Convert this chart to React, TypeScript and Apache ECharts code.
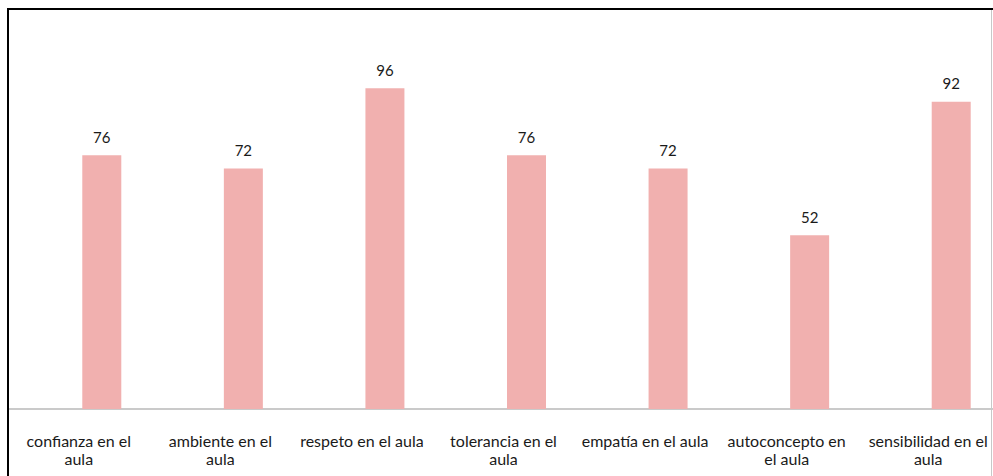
import React, { useEffect, useRef } from "react";
import * as echarts from "echarts";

const categories = [
  "confianza en el\naula",
  "ambiente en el\naula",
  "respeto en el aula",
  "tolerancia en el\naula",
  "empatía en el aula",
  "autoconcepto en\nel aula",
  "sensibilidad en el\naula",
];
const values = [76, 72, 96, 76, 72, 52, 92];

export default function App() {
  const ref = useRef<HTMLDivElement>(null);
  useEffect(() => {
    if (!ref.current) return;
    const chart = echarts.init(ref.current, undefined, { renderer: "svg" });
    chart.setOption({
      animation: false,
      backgroundColor: "#ffffff",
      grid: { left: 31, top: 75, right: 0, bottom: 67, containLabel: false, outerBoundsMode: "none" },
      xAxis: {
        type: "category",
        data: categories,
        axisLine: { show: false },
        axisTick: { show: false },
        axisLabel: {
          interval: 0,
          margin: 22,
          color: "#1a1a1a",
          fontFamily: "Lato",
          fontSize: 16,
          lineHeight: 18,
          padding: [0, 46, 0, 0],
        },
      },
      yAxis: {
        type: "value",
        min: 0,
        max: 100,
        show: false,
        splitLine: { show: false },
      },
      series: [
        {
          type: "bar",
          data: values,
          barWidth: 39,
          itemStyle: { color: "#F1B0AF" },
          label: {
            show: true,
            position: "top",
            distance: 11,
            color: "#1a1a1a",
            fontFamily: "Lato",
            fontSize: 15,
          },
        },
      ],
      graphic: [
        { type: "line", shape: { x1: 9, y1: 409, x2: 993, y2: 409 }, style: { stroke: "#b8b8b8", lineWidth: 1.5 }, silent: true },
        { type: "line", shape: { x1: 8, y1: 8, x2: 8, y2: 476 }, style: { stroke: "#000000", lineWidth: 2 }, silent: true },
        { type: "line", shape: { x1: 7, y1: 9, x2: 993, y2: 9 }, style: { stroke: "#000000", lineWidth: 2 }, silent: true },
        { type: "line", shape: { x1: 991.5, y1: 10, x2: 991.5, y2: 476 }, style: { stroke: "#c8c8c8", lineWidth: 1 }, silent: true },
      ],
    });
    return () => chart.dispose();
  }, []);
  return (
    <div
      style={{ position: "fixed", left: 0, top: 0, width: 993, height: 476, overflow: "hidden" }}
    >
      <div ref={ref} style={{ width: 1022, height: 476 }} />
    </div>
  );
}
